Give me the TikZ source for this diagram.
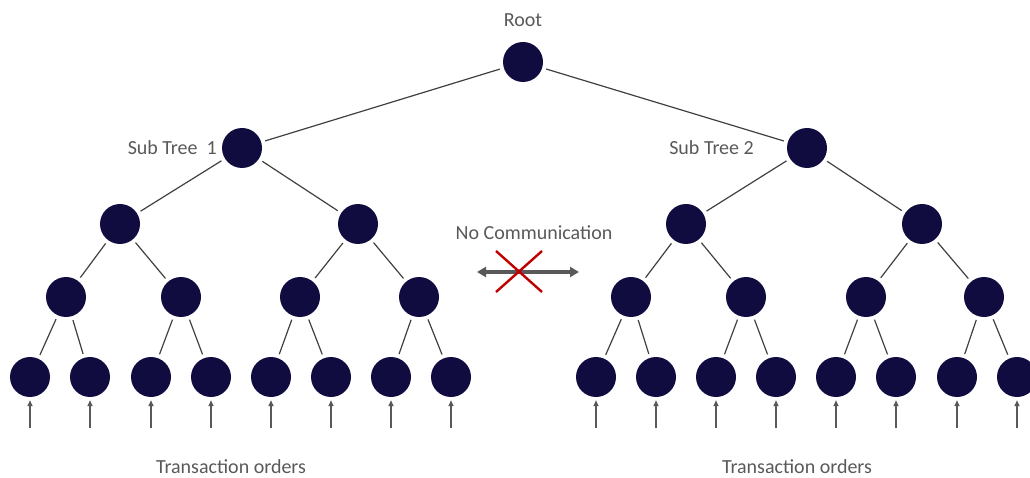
\documentclass[tikz,border=0pt]{standalone}
\usepackage{fontspec}
\setmainfont{Carlito}
\usetikzlibrary{arrows.meta,calc}
\definecolor{navy}{HTML}{100C40}
\definecolor{txt}{HTML}{595959}
\definecolor{edgec}{HTML}{404040}
\definecolor{redx}{HTML}{C00000}
\tikzset{
  dot/.style={circle,fill=navy,draw=none,minimum size=40pt,inner sep=0pt},
  edge/.style={draw=edgec,line width=1.2pt,shorten <=4pt,shorten >=4pt},
  feed/.style={draw=txt,line width=1.6pt,-{Triangle[length=6pt,width=5pt]},shorten >=3pt},
  lbl/.style={text=txt,font=\fontsize{20}{22}\selectfont,inner sep=0pt}
}
\begin{document}
\begin{tikzpicture}[x=1pt,y=-1pt]
\useasboundingbox (0,0) rectangle (1030,478);
% nodes
\node[dot] (r) at (523,62) {};
\node[dot] (a) at (242,148) {};
\node[dot] (b) at (807,148) {};
\node[dot] (a1) at (120,224) {};
\node[dot] (a2) at (358,224) {};
\node[dot] (b1) at (686,224) {};
\node[dot] (b2) at (922,224) {};
\foreach \n/\x in {a11/66,a12/181,a21/300,a22/419,b11/631,b12/746,b21/866,b22/984}
  \node[dot] (\n) at (\x,297) {};
\foreach \n/\x in {a111/30,a112/90,a121/151,a122/211,a211/271,a212/331,a221/391,a222/451,
                   b111/596,b112/656,b121/716,b122/776,b211/836,b212/896,b221/957,b222/1017}
  {\node[dot] (\n) at (\x,377) {};
   \coordinate (\n t) at (\x,428);
   \draw[feed] (\n t) -- (\n);}
% edges
\foreach \p/\c in {r/a,r/b,a/a1,a/a2,b/b1,b/b2,
  a1/a11,a1/a12,a2/a21,a2/a22,b1/b11,b1/b12,b2/b21,b2/b22,
  a11/a111,a11/a112,a12/a121,a12/a122,a21/a211,a21/a212,a22/a221,a22/a222,
  b11/b111,b11/b112,b12/b121,b12/b122,b21/b211,b21/b212,b22/b221,b22/b222}
  \draw[edge] (\p) -- (\c);
% labels
\node[lbl] (lr) at (523,20) {Root};
\node[lbl,anchor=east] (la) at (217,148) {Sub Tree\ \ 1};
\node[lbl,anchor=east] (lb) at (754,148) {Sub Tree 2};
\node[lbl] (lnc) at (534,233) {No Communication};
\node[lbl] (lt1) at (231,467) {Transaction orders};
\node[lbl] (lt2) at (797,467) {Transaction orders};
% no communication arrow
\coordinate (nl) at (477,272);
\coordinate (nr) at (579,272);
\draw[draw=txt,line width=3.4pt,{Triangle[length=9pt,width=10pt]}-{Triangle[length=9pt,width=10pt]}] (nl) -- (nr);
\coordinate (x1) at (496,251);
\coordinate (x2) at (542,292);
\coordinate (x3) at (542,251);
\coordinate (x4) at (496,292);
\draw[redx,line width=2.4pt] (x1) -- (x2);
\draw[redx,line width=2.4pt] (x3) -- (x4);
\end{tikzpicture}
\end{document}
